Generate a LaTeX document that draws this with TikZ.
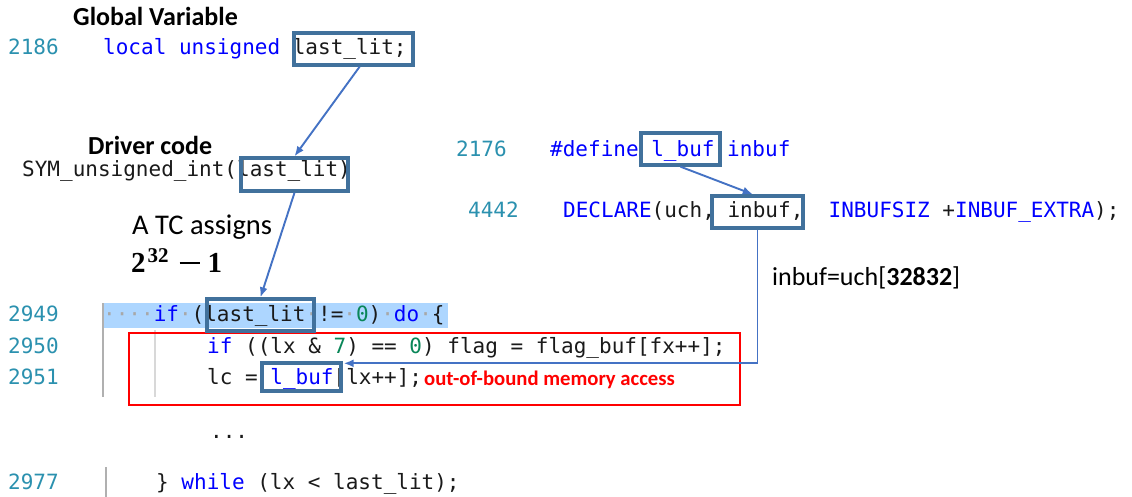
\documentclass[tikz,border=0pt]{standalone}
\usepackage{fontspec}
\setmainfont{Carlito}
\newfontfamily\codefont{DejaVu Sans Mono}
\newfontfamily\valuefont{Liberation Serif}
\usetikzlibrary{arrows.meta,calc}

\definecolor{lnum}{HTML}{2B91AF}
\definecolor{kwblue}{HTML}{0000FF}
\definecolor{numgreen}{HTML}{098658}
\definecolor{framecol}{HTML}{41719C}
\definecolor{linkcol}{HTML}{4472C4}
\definecolor{hlband}{HTML}{ADD6FF}
\definecolor{wsdot}{HTML}{A8A8A8}
\definecolor{alertred}{HTML}{FF0000}
\definecolor{ink}{HTML}{1A1A1A}
\definecolor{guidedark}{HTML}{B0B0B0}
\definecolor{guidelight}{HTML}{D8D8D8}

% syntax colouring helpers
\newcommand\kw[1]{\textcolor{kwblue}{#1}}
\newcommand\nm[1]{\textcolor{numgreen}{#1}}
\newcommand\ws{\textcolor{wsdot}{·}}

\begin{document}
\begin{tikzpicture}[x=1pt,y=-1pt,
  code/.style={font=\codefont\fontsize{21}{25}\selectfont, text=ink, inner sep=0pt, anchor=base west},
  lineno/.style={code, text=lnum},
  heading/.style={font=\bfseries\fontsize{26}{30}\selectfont, text=black, inner sep=0pt, anchor=base west},
  note/.style={font=\fontsize{28.5}{32}\selectfont, text=black, inner sep=0pt, anchor=base west},
  varbox/.style={draw=framecol, line width=3.4pt, inner sep=0pt},
  link/.style={draw=linkcol, line width=1.9pt, -{Latex[length=10pt,width=8pt]}},
  guide/.style={line width=1.5pt},
]
% canvas
\fill[white] (0,0) rectangle (1132,497);
\useasboundingbox (0,0) rectangle (1132,497);

% editor decorations
\fill[hlband] (102,303) rectangle (448,328);
\draw[guide, guidedark] (103,303) -- (103,397);
\draw[guide, guidelight] (155,330) -- (155,397);
\draw[guide, guidedark] (106,467) -- (106,497);
\node[draw=alertred, line width=1.4pt, minimum width=611pt, minimum height=72pt, inner sep=0pt] (oob) at (434.5,369) {};

% headings
\node[heading] (hGlobal) at (73,26) {Global Variable};
\node[heading] (hDriver) at (88,155) {Driver code};

% line numbers
\node[lineno] (n2186) at (8,55) {2186};
\node[lineno] (n2176) at (456,157) {2176};
\node[lineno] (n4442) at (468,218) {4442};
\node[lineno] (n2949) at (8,321) {2949};
\node[lineno] (n2950) at (8,353) {2950};
\node[lineno] (n2951) at (8,384) {2951};
\node[lineno] (n2977) at (8,489) {2977};

% source lines
\node[code] (c2186) at (103,55) {\kw{local unsigned} last\_lit;};
\node[code] (cDriver) at (22,177) {SYM\_unsigned\_int(last\_lit)};
\node[code] (c2176) at (550,157) {\kw{\#define l\_buf inbuf}};
\node[code] (c4442) at (563,218) {\kw{DECLARE}(uch, inbuf,\ \ \kw{INBUFSIZ} +\kw{INBUF\_EXTRA});};
\node[code] (c2949) at (103,321) {\ws\ws\ws\ws\kw{if}\ws(last\_lit\ws!=\ws\nm{0})\ws\kw{do}\ws\{};
\node[code] (c2950) at (207,353) {\kw{if} ((lx \& \nm{7}) == \nm{0}) flag = flag\_buf[fx++];};
\node[code] (c2951) at (207,384) {lc = \kw{l\_buf}[lx++];};
\node[code] (cdots) at (210,438) {...};
\node[code] (c2977) at (156,489) {\} \kw{while} (lx < last\_lit);};

% annotations
\node[inner sep=0pt, anchor=base west, text=alertred, font=\bfseries\fontsize{20.7}{24}\selectfont] (oobText) at (424,385) {out-of-bound memory access};
\node[note] (tcText) at (132,234) {A TC assigns};
\node[inner sep=0pt, anchor=base west, text=black, font=\valuefont\bfseries\fontsize{29}{32}\selectfont] (tcValue) at (131,272)
  {2\hspace{2pt}\raisebox{9.5pt}{\fontsize{21}{23}\selectfont 32}\hspace{11pt}\rule[8pt]{20pt}{2.3pt}\hspace{8pt}1};
\node[note, font=\fontsize{26}{30}\selectfont] (bufSize) at (772,285) {inbuf=uch[\textbf{32832}]};

% highlighted identifiers
\node[varbox, minimum width=119pt, minimum height=32pt] (B1) at (353.5,49) {};
\node[varbox, minimum width=107pt, minimum height=33pt] (B2) at (294.5,174.5) {};
\node[varbox, minimum width=107pt, minimum height=32pt] (B3) at (260.5,315) {};
\node[varbox, minimum width=79pt, minimum height=28pt] (B4) at (301.5,377) {};
\node[varbox, minimum width=79pt, minimum height=32pt] (B5) at (680.5,149) {};
\node[varbox, minimum width=91pt, minimum height=32pt] (B6) at (757.5,212) {};

% data flow
\draw[link] ($(B1.south west)!0.55!(B1.south east)$) -- (B2.north);
\draw[link] (B2.south) -- (B3.north);
\draw[link] (B5.south) -- ($(B6.north west)!0.45!(B6.north east)$);
\draw[link] (B6.south) |- ($(B4.north east)+(1,2)$);
\end{tikzpicture}
\end{document}
